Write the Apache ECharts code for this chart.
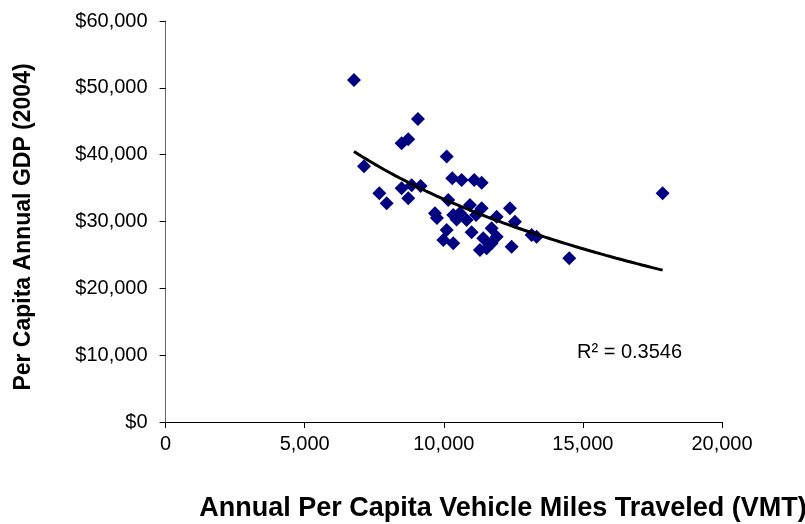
<!DOCTYPE html>
<html>
<head>
<meta charset="utf-8">
<script src="https://cdn.jsdelivr.net/npm/echarts@6/dist/echarts.min.js"></script>
<style>html,body{margin:0;padding:0;background:#fff}#c{width:805px;height:524px}</style>
</head>
<body>
<div id="c"></div>
<script>
// Annual per capita VMT (x) and per capita GDP 2004 (y), one point per state
const vmt = [6771, 9071, 8723, 8485, 10103, 7131, 7681, 7946, 8485, 8723,
  8845, 9168, 9682, 9754, 10304, 10641, 11095, 11361, 10161, 10340,
  10940, 11361, 10821, 11900, 12378, 12557, 10103, 9983, 10340, 11418,
  11900, 11540, 11300, 12439, 13157, 13337, 11720, 17865, 14510, 10580,
  11160, 11720, 10460, 11000];
const gdp = [51160, 45330, 42290, 41690, 39720, 38250, 34210, 32720, 34960, 33470,
  35410, 35310, 31220, 30520, 36460, 36200, 36200, 35800, 33210, 30970,
  32460, 31970, 30220, 30710, 31970, 29970, 28720, 27230, 26730, 27480,
  27720, 25990, 25730, 26230, 27980, 27720, 28980, 34210, 24490, 31270,
  30970, 26730, 30300, 28400];
const xTicks = [0, 5000, 10000, 15000, 20000];
const yTicks = [0, 10000, 20000, 30000, 40000, 50000, 60000];
const rSquaredLabel = 'R\u00b2 = 0.3546';

// Logarithmic trendline fitted to the points: y = a + b ln(x)
const n = vmt.length;
let sl = 0, sy = 0, sll = 0, sly = 0;
for (let i = 0; i < n; i++) {
  const l = Math.log(vmt[i]);
  sl += l; sy += gdp[i]; sll += l * l; sly += l * gdp[i];
}
const b = (n * sly - sl * sy) / (n * sll - sl * sl);
const a = (sy - b * sl) / n;
const xmin = Math.min(...vmt), xmax = Math.max(...vmt);
const trend = [];
for (let k = 0; k <= 60; k++) {
  const x = xmin + (xmax - xmin) * k / 60;
  trend.push([x, a + b * Math.log(x)]);
}

const FONT = '"Liberation Sans", Arial, sans-serif';
const chart = echarts.init(document.getElementById('c'), null, {renderer: 'canvas'});
chart.setOption({
  animation: false,
  backgroundColor: '#fff',
  grid: {left: 165.6, right: 83, top: 21, bottom: 102, containLabel: false},
  xAxis: {
    type: 'value', min: xTicks[0], max: xTicks[xTicks.length - 1], interval: 5000,
    axisLine: {onZero: false, lineStyle: {color: '#000', width: 1}},
    axisTick: {show: true, length: 6, lineStyle: {color: '#000'}},
    splitLine: {show: false},
    axisLabel: {color: '#000', fontFamily: FONT, fontSize: 20, margin: 12,
      formatter: v => v.toLocaleString('en-US')}
  },
  yAxis: {
    type: 'value', min: yTicks[0], max: yTicks[yTicks.length - 1], interval: 10000,
    axisLine: {show: true, lineStyle: {color: '#666', width: 1}},
    axisTick: {show: true, length: 6, lineStyle: {color: '#000'}},
    splitLine: {show: false},
    axisLabel: {color: '#000', fontFamily: FONT, fontSize: 20, margin: 18,
      formatter: v => '$' + v.toLocaleString('en-US')}
  },
  series: [
    {
      type: 'scatter', symbol: 'diamond', symbolSize: 14,
      itemStyle: {color: '#000080', opacity: 1},
      data: vmt.map((x, i) => [x, gdp[i]]), z: 2
    },
    {
      type: 'line', data: trend, showSymbol: false, smooth: false,
      lineStyle: {color: '#000', width: 3}, z: 3
    }
  ],
  graphic: [
    {type: 'text', left: 577, top: 342,
      style: {text: rSquaredLabel, font: '20px ' + FONT, fill: '#000'}},
    {type: 'text', x: 503, y: 509,
      style: {text: 'Annual Per Capita Vehicle Miles Traveled (VMT)', font: 'bold 27px ' + FONT,
        fill: '#000', textAlign: 'center', textVerticalAlign: 'middle'}},
    {type: 'text', x: 24, y: 227, rotation: Math.PI / 2,
      style: {text: 'Per Capita Annual GDP (2004)', font: 'bold 23px ' + FONT,
        fill: '#000', textAlign: 'center', textVerticalAlign: 'middle'}}
  ]
});
</script>
</body>
</html>
